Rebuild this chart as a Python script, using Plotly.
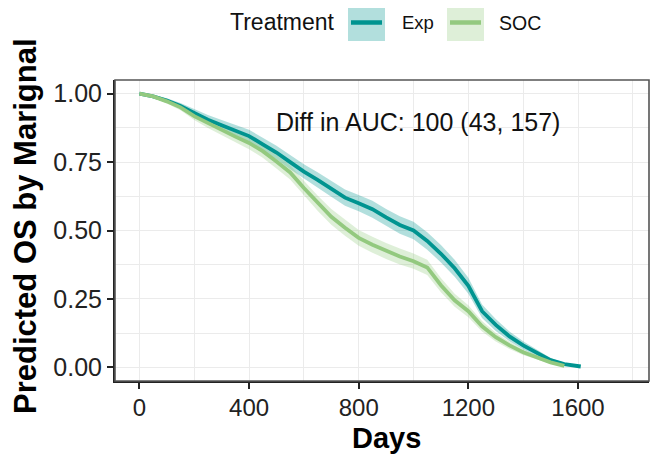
import plotly.graph_objects as go

# ---- data ----
exp_days = [0, 50, 100, 150, 200, 250, 300, 350, 400, 450, 500, 550, 600, 650, 700, 750, 800,
            850, 900, 950, 1000, 1050, 1100, 1150, 1200, 1250, 1300, 1350, 1400, 1450, 1500,
            1550, 1600, 1610]
exp_est = [1.000, 0.990, 0.975, 0.955, 0.930, 0.905, 0.885, 0.865, 0.845, 0.815, 0.785, 0.750,
           0.715, 0.685, 0.652, 0.620, 0.600, 0.578, 0.548, 0.520, 0.500, 0.462, 0.415, 0.362,
           0.298, 0.205, 0.155, 0.113, 0.080, 0.052, 0.026, 0.012, 0.004, 0.003]
exp_upper = [1.000, 0.994, 0.983, 0.966, 0.944, 0.922, 0.904, 0.886, 0.868, 0.839, 0.810, 0.776,
             0.742, 0.713, 0.681, 0.650, 0.630, 0.609, 0.579, 0.552, 0.532, 0.494, 0.447, 0.393,
             0.327, 0.230, 0.177, 0.131, 0.095, 0.063, 0.034, 0.017, 0.006, 0.004]
exp_lower = [1.000, 0.986, 0.967, 0.944, 0.916, 0.888, 0.866, 0.844, 0.822, 0.791, 0.760, 0.724,
             0.688, 0.657, 0.623, 0.590, 0.570, 0.547, 0.517, 0.488, 0.468, 0.430, 0.383, 0.331,
             0.269, 0.180, 0.133, 0.095, 0.065, 0.041, 0.018, 0.007, 0.002, 0.002]

soc_days = [0, 50, 100, 150, 200, 250, 300, 350, 400, 450, 500, 550, 600, 650, 700, 750, 800,
            850, 900, 950, 1000, 1050, 1100, 1150, 1200, 1250, 1300, 1350, 1400, 1450, 1500, 1550]
soc_est = [1.000, 0.990, 0.972, 0.950, 0.918, 0.892, 0.868, 0.843, 0.820, 0.790, 0.752, 0.712,
           0.655, 0.600, 0.550, 0.510, 0.473, 0.448, 0.425, 0.405, 0.388, 0.365, 0.300, 0.245,
           0.205, 0.150, 0.110, 0.080, 0.055, 0.035, 0.018, 0.005]
soc_upper = [1.000, 0.994, 0.980, 0.961, 0.932, 0.909, 0.887, 0.864, 0.843, 0.814, 0.777, 0.738,
             0.682, 0.628, 0.579, 0.539, 0.502, 0.477, 0.454, 0.434, 0.416, 0.393, 0.326, 0.269,
             0.227, 0.169, 0.126, 0.093, 0.065, 0.042, 0.023, 0.008]
soc_lower = [1.000, 0.986, 0.964, 0.939, 0.904, 0.875, 0.849, 0.822, 0.797, 0.766, 0.727, 0.686,
             0.628, 0.572, 0.521, 0.481, 0.444, 0.419, 0.396, 0.376, 0.360, 0.337, 0.274, 0.221,
             0.183, 0.131, 0.094, 0.067, 0.045, 0.028, 0.013, 0.002]

x_ticks = [0, 400, 800, 1200, 1600]
y_ticks = [0.00, 0.25, 0.50, 0.75, 1.00]
treatments = ["Exp", "SOC"]
annotation_text = "Diff in AUC: 100 (43, 157)"

# ---- styling ----
EXP_COL = "#009490"
SOC_COL = "#93C97F"
EXP_FILL = "rgba(0,148,144,0.30)"
SOC_FILL = "rgba(147,201,127,0.30)"
FONT = "Liberation Sans, Arial, sans-serif"

fig = go.Figure()

def ribbon(days, lo, hi, fill):
    return go.Scatter(x=list(days) + list(days)[::-1], y=list(hi) + list(lo)[::-1],
                      fill="toself", fillcolor=fill, line=dict(width=0), mode="lines",
                      hoverinfo="skip", showlegend=False)

fig.add_trace(ribbon(exp_days, exp_lower, exp_upper, EXP_FILL))
fig.add_trace(ribbon(soc_days, soc_lower, soc_upper, SOC_FILL))
fig.add_trace(go.Scatter(x=exp_days, y=exp_est, mode="lines", name="Exp",
                         line=dict(color=EXP_COL, width=3.8), showlegend=False))
fig.add_trace(go.Scatter(x=soc_days, y=soc_est, mode="lines", name="SOC",
                         line=dict(color=SOC_COL, width=3.8), showlegend=False))

# page has an 8px body margin -> figure drawn 8px smaller, coordinates in reference pixels
OFF = 8
W, H = 659 - OFF, 456 - OFF
L, R, T, B = 115 - OFF, 10, 80 - OFF, 75
PW, PH = W - L - R, H - T - B

def px(xref_px):
    return (xref_px - OFF - L) / PW

def py(yref_px):
    return (H - B - (yref_px - OFF)) / PH

shapes = []
shapes.append(dict(type="rect", xref="paper", yref="paper", x0=0, x1=1, y0=0, y1=1,
                   line=dict(color="#555555", width=1.6), layer="above"))
for (x0, x1), fill, col in [((348, 385), EXP_FILL, EXP_COL), ((447, 484), SOC_FILL, SOC_COL)]:
    shapes.append(dict(type="rect", xref="paper", yref="paper", x0=px(x0), x1=px(x1),
                       y0=py(41), y1=py(5), fillcolor=fill, line=dict(width=0)))
    shapes.append(dict(type="line", xref="paper", yref="paper", x0=px(x0 + 3), x1=px(x1 - 3),
                       y0=py(22.5), y1=py(22.5), line=dict(color=col, width=4.5)))

annotations = [
    dict(x=1016, y=0.895, xref="x", yref="y", text=annotation_text, showarrow=False,
         font=dict(size=25, color="#111111", family=FONT)),
    dict(x=px(228), y=py(22), xref="paper", yref="paper", text="Treatment", showarrow=False,
         xanchor="left", yanchor="middle", font=dict(size=23, color="#111111", family=FONT)),
    dict(x=px(400), y=py(23), xref="paper", yref="paper", text=treatments[0], showarrow=False,
         xanchor="left", yanchor="middle", font=dict(size=18.5, color="#111111", family=FONT)),
    dict(x=px(497), y=py(23), xref="paper", yref="paper", text=treatments[1], showarrow=False,
         xanchor="left", yanchor="middle", font=dict(size=19.5, color="#111111", family=FONT)),
    dict(x=px(386), y=py(438), xref="paper", yref="paper", text="<b>Days</b>", showarrow=False,
         xanchor="center", yanchor="middle", font=dict(size=29, color="#000000", family=FONT)),
    dict(x=px(25), y=py(226), xref="paper", yref="paper", text="<b>Predicted OS by Marignal</b>",
         showarrow=False, textangle=-90, xanchor="center", yanchor="middle",
         font=dict(size=31, color="#000000", family=FONT)),
]

fig.update_layout(
    width=W, height=H,
    margin=dict(l=L, r=R, t=T, b=B, autoexpand=False),
    paper_bgcolor="white", plot_bgcolor="white",
    showlegend=False,
    shapes=shapes, annotations=annotations,
    font=dict(family=FONT),
)
fig.update_xaxes(
    range=[-89, 1859], tickvals=x_ticks, ticktext=[str(v) for v in x_ticks],
    showgrid=True, gridcolor="#EBEBEB", gridwidth=1.4, zeroline=False,
    minor=dict(dtick=200, tick0=0, showgrid=True, gridcolor="#EBEBEB", gridwidth=0.8),
    ticks="outside", ticklen=6, tickwidth=2, tickcolor="#222222",
    showline=True, linecolor="#222222", linewidth=2,
    ticklabelstandoff=-2,
    tickfont=dict(size=24, color="#222222", family=FONT),
)
fig.update_yaxes(
    range=[-0.05, 1.05], tickvals=y_ticks, ticktext=[f"{v:.2f}" for v in y_ticks],
    showgrid=True, gridcolor="#EBEBEB", gridwidth=1.4, zeroline=False,
    minor=dict(dtick=0.125, tick0=0, showgrid=True, gridcolor="#EBEBEB", gridwidth=0.8),
    ticks="outside", ticklen=6, tickwidth=2, tickcolor="#222222",
    showline=True, linecolor="#222222", linewidth=2,
    tickfont=dict(size=25, color="#222222", family=FONT),
)

fig.write_html("out.html")
